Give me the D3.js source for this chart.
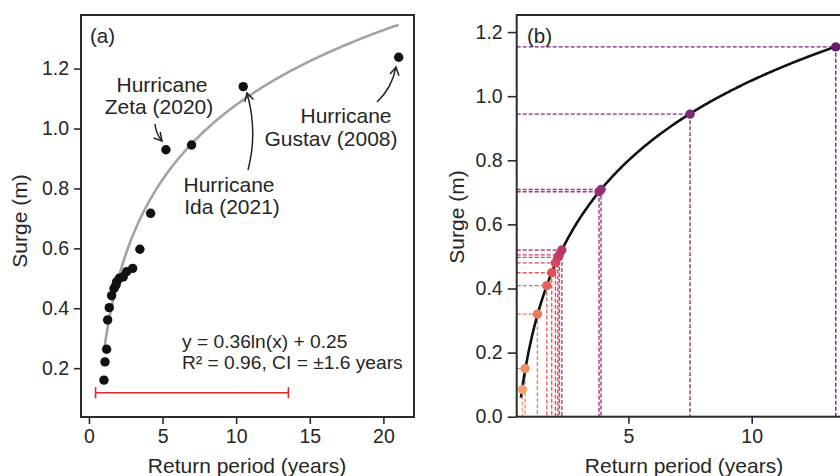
<!DOCTYPE html>
<html>
<head>
<meta charset="utf-8">
<script src="https://cdn.jsdelivr.net/npm/d3@7"></script>
<style>
  html, body { margin: 0; padding: 0; background: #fff; }
  svg text { font-family: "Liberation Sans", Arial, Helvetica, sans-serif; fill: #262626; }
</style>
</head>
<body>
<svg id="chart" width="840" height="476"></svg>
<script>
// Panel (a): observed surge events and their empirical return periods
const returnPeriodA = [1.02, 1.09, 1.20, 1.27, 1.38, 1.54, 1.70, 1.83, 1.88, 2.06, 2.33, 2.56, 2.97, 3.46, 4.19, 5.23, 6.97, 10.48, 21.04];
const surgeA        = [0.160, 0.221, 0.263, 0.361, 0.402, 0.442, 0.466, 0.477, 0.488, 0.500, 0.505, 0.522, 0.533, 0.597, 0.717, 0.929, 0.945, 1.140, 1.238];
// Logarithmic fit y = a ln(x) + b and its confidence interval
const fitA = [0.36, 0.25];
const ciRangeA = [0.45, 13.55];
const ciLevelA = 0.118;

// Panel (b): surges placed on the fitted return-period curve
const returnPeriodB = [0.70, 0.81, 1.31, 1.69, 1.89, 2.04, 2.14, 2.20, 2.30, 3.81, 3.89, 7.50, 13.41];
const surgeB        = [0.085, 0.150, 0.320, 0.409, 0.449, 0.480, 0.497, 0.505, 0.520, 0.702, 0.709, 0.944, 1.154];
const fitB = [0.36, 0.22];
const fitRangeB = [0.64, 13.41];
const paletteB = ["#f3a472", "#ef8d66", "#ec7a5c", "#e6605a", "#e05159", "#d5465f", "#cb3f65", "#c23a69", "#b8356e", "#9b2e79", "#952c78", "#7b2878", "#681d6c"];

// Tick values
const xTicksA = [0, 5, 10, 15, 20];
const yTicksA = [0.2, 0.4, 0.6, 0.8, 1.0, 1.2];
const xTicksB = [5, 10];
const yTicksB = [0.0, 0.2, 0.4, 0.6, 0.8, 1.0, 1.2];

// Annotations (text lines)
const zetaLines = ["Hurricane", "Zeta (2020)"];
const idaLines = ["Hurricane", "Ida (2021)"];
const gustavLines = ["Hurricane", "Gustav (2008)"];
const eqLines = ["y = 0.36ln(x) + 0.25", "R\u00b2 = 0.96, CI = \u00b11.6 years"];

const svg = d3.select("#chart");
svg.append("rect").attr("width", 840).attr("height", 476).attr("fill", "#fff");

const frameColor = "#2b2b2b";
const tickFont = 19.5;
const labelFont = 21;
const noteFont = 21;
const eqFont = 19.2;

// ---------- Panel (a) ----------
const A = { left: 81, right: 414, top: 15, bottom: 417 };
const xA = d3.scaleLinear().domain([-0.54, 22.08]).range([A.left, A.right]);
const yA = d3.scaleLinear().domain([0.037, 1.379]).range([A.bottom, A.top]);

const gA = svg.append("g");

function styleAxis(g) {
  g.select(".domain").remove();
  g.selectAll(".tick line").attr("stroke", frameColor).attr("stroke-width", 1.6);
  g.selectAll(".tick text").attr("font-size", tickFont).attr("fill", "#262626")
    .style("font-family", '"Liberation Sans", Arial, sans-serif');
}

gA.append("g").attr("transform", `translate(0,${A.bottom})`)
  .call(d3.axisBottom(xA).tickValues(xTicksA).tickSize(7).tickPadding(5).tickFormat(d3.format("d")))
  .call(styleAxis);
gA.append("g").attr("transform", `translate(${A.left},0)`)
  .call(d3.axisLeft(yA).tickValues(yTicksA).tickSize(7).tickPadding(5).tickFormat(d3.format(".1f")))
  .call(styleAxis);

// fit curve
const curveA = d3.range(0, 201).map(i => {
  const x = returnPeriodA[0] + (returnPeriodA[returnPeriodA.length - 1] - returnPeriodA[0]) * i / 200;
  return [x, fitA[0] * Math.log(x) + fitA[1]];
});
gA.append("path").datum(curveA)
  .attr("fill", "none").attr("stroke", "#a3a3a3").attr("stroke-width", 2.6)
  .attr("d", d3.line().x(d => xA(d[0])).y(d => yA(d[1])));

// observed points
gA.selectAll("circle.obs").data(returnPeriodA.map((x, i) => [x, surgeA[i]])).join("circle")
  .attr("class", "obs")
  .attr("cx", d => xA(d[0])).attr("cy", d => yA(d[1])).attr("r", 4.7).attr("fill", "#111");

// CI bar
const ciG = gA.append("g").attr("stroke", "#e3262b").attr("stroke-width", 1.6);
ciG.append("line").attr("x1", xA(ciRangeA[0])).attr("x2", xA(ciRangeA[1]))
  .attr("y1", yA(ciLevelA)).attr("y2", yA(ciLevelA));
ciRangeA.forEach(v => ciG.append("line").attr("x1", xA(v)).attr("x2", xA(v))
  .attr("y1", yA(ciLevelA) - 5.5).attr("y2", yA(ciLevelA) + 5.5));

// frame
gA.append("rect").attr("x", A.left).attr("y", A.top).attr("width", A.right - A.left).attr("height", A.bottom - A.top)
  .attr("fill", "none").attr("stroke", frameColor).attr("stroke-width", 2);

gA.append("text").attr("x", 90).attr("y", 43).attr("font-size", 20.5).text("(a)");

// arrow head marker
const defs = svg.append("defs");
defs.append("marker").attr("id", "head").attr("viewBox", "-10 -6 12 12")
  .attr("refX", 0).attr("refY", 0).attr("markerWidth", 12).attr("markerHeight", 12)
  .attr("markerUnits", "userSpaceOnUse").attr("orient", "auto")
  .append("path").attr("d", "M-8,-4.5 L0,0 L-8,4.5").attr("fill", "none")
  .attr("stroke", "#222").attr("stroke-width", 1.5);

function lines(g, arr, cx, y0, dy, anchor, size) {
  arr.forEach((t, i) => g.append("text").attr("x", cx[i]).attr("y", y0 + i * dy)
    .attr("font-size", size).attr("text-anchor", anchor).text(t));
}
lines(gA, zetaLines, [162, 159], 92, 22, "middle", noteFont);
lines(gA, idaLines, [229, 232], 192, 21.5, "middle", noteFont);
lines(gA, gustavLines, [346, 331], 123, 23, "middle", noteFont);
lines(gA, eqLines, [182, 182], 348, 20.8, "start", eqFont);

const arrows = [
  "M155,124 Q156,134 162,141",
  "M248,170 Q258,132 247,93",
  "M377,102 Q392,88 396,67"
];
arrows.forEach(d => gA.append("path").attr("d", d).attr("fill", "none")
  .attr("stroke", "#222").attr("stroke-width", 1.5).attr("marker-end", "url(#head)"));

// axis titles
gA.append("text").attr("x", 247).attr("y", 473).attr("text-anchor", "middle").attr("font-size", labelFont)
  .text("Return period (years)");
gA.append("text").attr("transform", "translate(27,221) rotate(-90)").attr("text-anchor", "middle")
  .attr("font-size", labelFont).text("Surge (m)");

// ---------- Panel (b) ----------
const B = { left: 516.7, right: 845.4, top: 15, bottom: 416.7 };
const xB = d3.scaleLinear().domain([0.47, 13.8]).range([B.left, B.right]);
const yB = d3.scaleLinear().domain([0, 1.2533]).range([B.bottom, B.top]);
const gB = svg.append("g");

gB.append("g").attr("transform", `translate(0,${B.bottom})`)
  .call(d3.axisBottom(xB).tickValues(xTicksB).tickSize(7).tickPadding(5).tickFormat(d3.format("d")))
  .call(styleAxis);
gB.append("g").attr("transform", `translate(${B.left},0)`)
  .call(d3.axisLeft(yB).tickValues(yTicksB).tickSize(9).tickPadding(5).tickFormat(d3.format(".1f")))
  .call(styleAxis);

const ptsB = returnPeriodB.map((x, i) => ({ x, y: surgeB[i], c: paletteB[i] }));

// guide lines from each point to the axes
const guides = gB.append("g").attr("stroke-width", 1.4).attr("stroke-dasharray", "4,2").attr("opacity", 0.95);
ptsB.forEach(p => {
  guides.append("line").attr("stroke", p.c)
    .attr("x1", B.left).attr("x2", xB(p.x)).attr("y1", yB(p.y)).attr("y2", yB(p.y));
  guides.append("line").attr("stroke", p.c)
    .attr("x1", xB(p.x)).attr("x2", xB(p.x)).attr("y1", yB(p.y)).attr("y2", B.bottom);
});

// fitted curve
const curveB = d3.range(0, 301).map(i => {
  const x = fitRangeB[0] + (fitRangeB[1] - fitRangeB[0]) * i / 300;
  return [x, fitB[0] * Math.log(x) + fitB[1]];
});
gB.append("path").datum(curveB)
  .attr("fill", "none").attr("stroke", "#111").attr("stroke-width", 2.6)
  .attr("d", d3.line().x(d => xB(d[0])).y(d => yB(d[1])));

gB.selectAll("circle.pt").data(ptsB).join("circle").attr("class", "pt")
  .attr("cx", d => xB(d.x)).attr("cy", d => yB(d.y)).attr("r", 4.7).attr("fill", d => d.c);

gB.append("rect").attr("x", B.left).attr("y", B.top).attr("width", B.right - B.left).attr("height", B.bottom - B.top)
  .attr("fill", "none").attr("stroke", frameColor).attr("stroke-width", 2);

gB.append("text").attr("x", 527).attr("y", 43).attr("font-size", 20.5).text("(b)");

gB.append("text").attr("x", 684).attr("y", 473).attr("text-anchor", "middle").attr("font-size", labelFont)
  .text("Return period (years)");
gB.append("text").attr("transform", "translate(464,217) rotate(-90)").attr("text-anchor", "middle")
  .attr("font-size", labelFont).text("Surge (m)");
</script>
</body>
</html>
